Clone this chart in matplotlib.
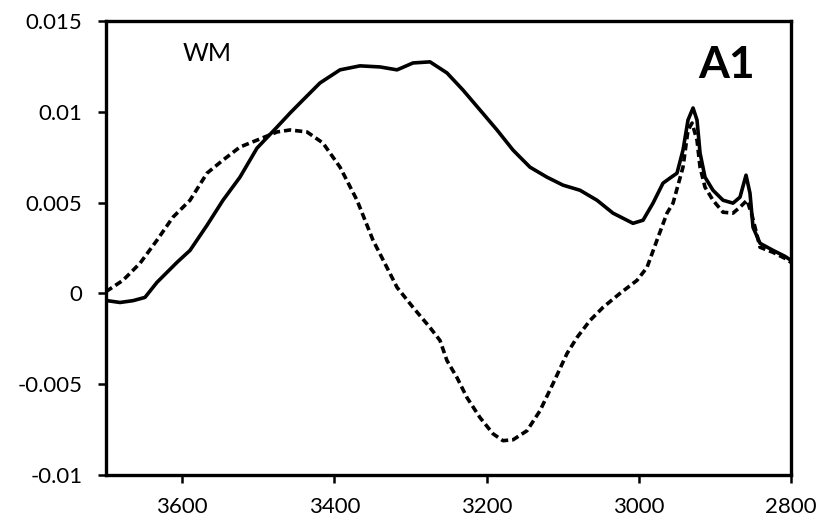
import matplotlib
matplotlib.use("Agg")
import matplotlib.pyplot as plt

plt.rcParams['font.family'] = ['Lato', 'DejaVu Sans']

# solid trace (WM)
wn_solid = [3700, 3681.6, 3664.5, 3648.8, 3633, 3606.7, 3589.6, 3567.3, 3546.3, 3524,
            3501.6, 3475.3, 3458.2, 3441.2, 3418.8, 3392.5, 3366.3, 3340, 3317.6, 3296.6,
            3274.3, 3252, 3231, 3208.6, 3186.3, 3165.2, 3142.9, 3120.6, 3099.5, 3077.2,
            3054.9, 3033.9, 3007.6, 2994.4, 2981.3, 2968.2, 2959, 2949.8, 2941.9, 2935.3,
            2928.7, 2923.5, 2919.5, 2913, 2902.5, 2889.3, 2876.2, 2867, 2859.1, 2853.9,
            2849.9, 2840.7, 2823.6, 2807.9, 2800]
abs_solid = [-0.00039, -0.0005, -0.0004, -0.00022, 0.00061, 0.00171, 0.00237, 0.00375, 0.00513, 0.0064,
             0.0080, 0.00916, 0.00993, 0.01065, 0.01159, 0.01231, 0.01253, 0.01247, 0.01231, 0.01269,
             0.01275, 0.01214, 0.0112, 0.0101, 0.0090, 0.00789, 0.00695, 0.0064, 0.00596, 0.00568,
             0.00513, 0.00442, 0.00386, 0.00403, 0.00497, 0.00607, 0.00635, 0.00662, 0.00789, 0.00955,
             0.01021, 0.00955, 0.00773, 0.0064, 0.00568, 0.00513, 0.00497, 0.0053, 0.00651, 0.00552,
             0.00364, 0.00276, 0.00237, 0.00204, 0.00182]

# dashed trace
wn_dash = [3700, 3677.7, 3655.3, 3633, 3612, 3589.6, 3567.3, 3546.3, 3524, 3501.6,
           3475.3, 3458.2, 3435.9, 3414.9, 3392.5, 3370.2, 3349.2, 3326.9, 3317.6, 3296.6,
           3274.3, 3261.2, 3252, 3238.8, 3225.7, 3208.6, 3191.5, 3178.4, 3165.2, 3146.8,
           3129.8, 3112.7, 3094.3, 3081.2, 3064.1, 3047, 3024.7, 3002.3, 2989.2, 2976.1,
           2962.9, 2955, 2941.9, 2935.3, 2930, 2923.5, 2919.5, 2913, 2902.5, 2889.3,
           2876.2, 2867, 2857.8, 2851.2, 2840.7, 2823.6, 2807.9, 2800]
abs_dash = [0.0001, 0.00072, 0.00166, 0.00293, 0.0042, 0.00513, 0.00662, 0.00734, 0.00806, 0.00844,
            0.00889, 0.009, 0.00889, 0.00828, 0.00695, 0.00513, 0.00293, 0.0011, 0.00033, -0.00077,
            -0.00188, -0.00259, -0.0037, -0.00464, -0.00574, -0.00684, -0.00773, -0.00811, -0.00806, -0.00756,
            -0.00646, -0.00497, -0.00331, -0.00243, -0.00149, -0.00077, 0.0, 0.00072, 0.00143, 0.00293,
            0.00442, 0.00497, 0.00695, 0.009, 0.00938, 0.00844, 0.00695, 0.00585, 0.00513, 0.00447,
            0.00442, 0.00475, 0.00513, 0.0043, 0.00254, 0.00226, 0.00193, 0.00171]

xticks = [3600, 3400, 3200, 3000, 2800]
yticks = [-0.01, -0.005, 0, 0.005, 0.01, 0.015]
ylabels = ['-0.01', '-0.005', '0', '0.005', '0.01', '0.015']

fig = plt.figure(figsize=(8.18, 5.26), dpi=100)
ax = fig.add_axes([106/818, 51/526, 685/818, 454/526])

ax.plot(wn_solid, abs_solid, color='black', lw=2.6)
ax.plot(wn_dash, abs_dash, color='black', lw=2.6, linestyle=(0, (2.0, 1.1)))

ax.set_xlim(3700, 2800)
ax.set_ylim(-0.01, 0.015)
ax.set_xticks(xticks)
ax.set_xticklabels([str(t) for t in xticks])
ax.set_yticks(yticks)
ax.set_yticklabels(ylabels)
ax.tick_params(direction='out', length=6, width=1.8, labelsize=16)
ax.tick_params(axis='y', pad=11)
ax.tick_params(axis='x', pad=10)

for s in ax.spines.values():
    s.set_linewidth(2.4)

ax.text(0.112, 0.929, 'WM', fontsize=18, transform=ax.transAxes, ha='left', va='center')
ax.text(0.9066, 0.903, 'A1', fontsize=32, fontweight='bold', transform=ax.transAxes,
        ha='center', va='center')

fig.savefig('out.png', dpi=100)
